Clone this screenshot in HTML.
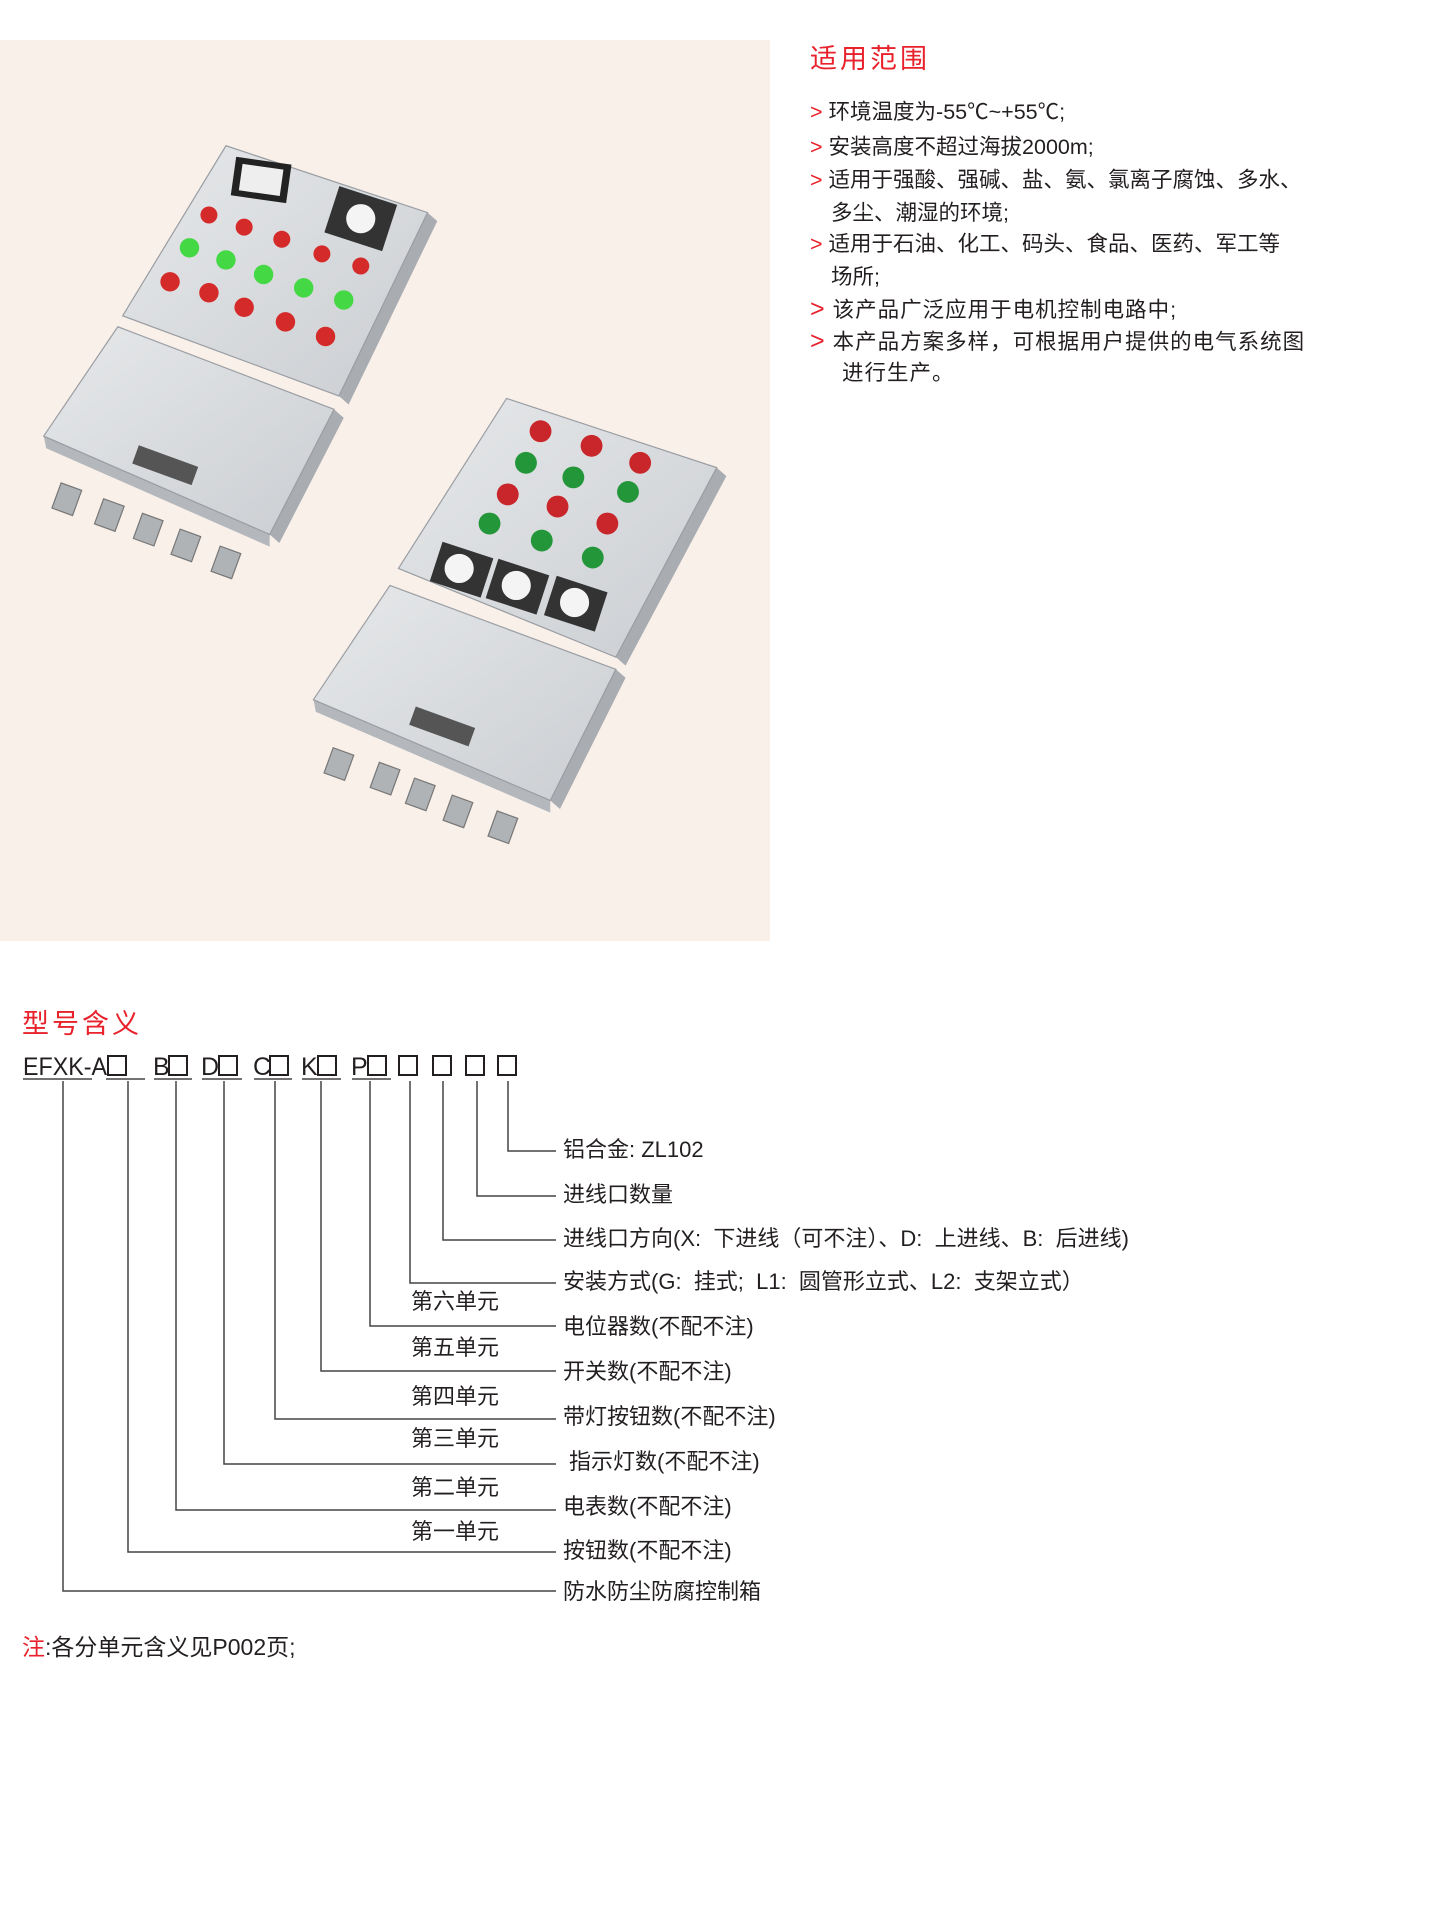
<!DOCTYPE html>
<html><head><meta charset="utf-8"><style>
body{margin:0;width:1443px;height:1913px;background:#fff;position:relative;overflow:hidden;font-family:"Liberation Sans","Noto Sans CJK SC",sans-serif;color:#231f20}
.t{position:absolute;white-space:nowrap}
.r{color:#e8212b}
.b{font-size:21.5px;line-height:26px}
.l{font-size:22px;line-height:26px}
</style></head><body>
<div style="position:absolute;left:0;top:40px;width:770px;height:901px;background:#f9f0ea"></div>
<svg style="position:absolute;left:0;top:0" width="770" height="941">
<defs><linearGradient id="g" x1="0" y1="0" x2="1" y2="1"><stop offset="0" stop-color="#e6e8ea"/><stop offset="1" stop-color="#cbced2"/></linearGradient></defs>
<g transform="scale(1.2147)">
<!-- box1 -->
<polygon points="352,175 360,182 287,333 279,326" fill="#a9adb2"/>
<polygon points="275,337 283,344 230,447 222,440" fill="#a9adb2"/>
<polygon points="36,359 222,440 222,450 38,369" fill="#b4b8bc"/>
<polygon points="186,120 352,175 279,326 101,260" fill="url(#g)" stroke="#9a9ea3"/>
<polygon points="97,269 275,337 222,440 36,359" fill="url(#g)" stroke="#9a9ea3"/>
<rect x="192" y="132" width="46" height="32" fill="#222" transform="rotate(8 214 148)"/>
<rect x="198" y="137" width="34" height="22" fill="#eee" transform="rotate(8 214 148)"/>
<rect x="272" y="160" width="50" height="40" fill="#333" transform="rotate(18 297 180)"/>
<circle cx="297" cy="180" r="12" fill="#f4f4f4"/>
<g fill="#d52a2a"><circle cx="172" cy="177" r="7"/><circle cx="201" cy="187" r="7"/><circle cx="232" cy="197" r="7"/><circle cx="265" cy="209" r="7"/><circle cx="297" cy="219" r="7"/><circle cx="140" cy="232" r="8"/><circle cx="172" cy="241" r="8"/><circle cx="201" cy="253" r="8"/><circle cx="235" cy="265" r="8"/><circle cx="268" cy="277" r="8"/></g>
<g fill="#45d845"><circle cx="156" cy="204" r="8"/><circle cx="186" cy="214" r="8"/><circle cx="217" cy="226" r="8"/><circle cx="250" cy="237" r="8"/><circle cx="283" cy="247" r="8"/></g>
<rect x="110" y="375" width="52" height="16" fill="#555" transform="rotate(20 136 383)"/>
<g fill="#b0b3b6" stroke="#777"><rect x="46" y="400" width="18" height="22" transform="rotate(20 55 411)"/><rect x="81" y="413" width="18" height="22" transform="rotate(20 90 424)"/><rect x="113" y="425" width="18" height="22" transform="rotate(20 122 436)"/><rect x="144" y="438" width="18" height="22" transform="rotate(20 153 449)"/><rect x="177" y="452" width="18" height="22" transform="rotate(20 186 463)"/></g>
<!-- box2 -->
<polygon points="590,385 598,392 515,548 507,541" fill="#a9adb2"/>
<polygon points="507,551 515,558 461,666 453,659" fill="#a9adb2"/>
<polygon points="258,576 453,659 453,669 260,586" fill="#b4b8bc"/>
<polygon points="417,328 590,385 507,541 328,468" fill="url(#g)" stroke="#9a9ea3"/>
<polygon points="321,482 507,551 453,659 258,576" fill="url(#g)" stroke="#9a9ea3"/>
<g fill="#c8262a"><circle cx="445" cy="355" r="9"/><circle cx="487" cy="367" r="9"/><circle cx="527" cy="381" r="9"/><circle cx="418" cy="407" r="9"/><circle cx="459" cy="417" r="9"/><circle cx="500" cy="431" r="9"/></g>
<g fill="#23963a"><circle cx="433" cy="381" r="9"/><circle cx="472" cy="393" r="9"/><circle cx="517" cy="405" r="9"/><circle cx="403" cy="431" r="9"/><circle cx="446" cy="445" r="9"/><circle cx="488" cy="459" r="9"/></g>
<g fill="#333"><rect x="358" y="452" width="44" height="34" transform="rotate(18 380 469)"/><rect x="404" y="466" width="44" height="34" transform="rotate(18 426 483)"/><rect x="452" y="480" width="44" height="34" transform="rotate(18 474 497)"/></g>
<g fill="#f4f4f4"><circle cx="378" cy="468" r="12"/><circle cx="425" cy="482" r="12"/><circle cx="473" cy="496" r="12"/></g>
<rect x="338" y="590" width="52" height="16" fill="#555" transform="rotate(20 364 598)"/>
<g fill="#b0b3b6" stroke="#777"><rect x="270" y="618" width="18" height="22" transform="rotate(20 279 629)"/><rect x="308" y="630" width="18" height="22" transform="rotate(20 317 641)"/><rect x="337" y="643" width="18" height="22" transform="rotate(20 346 654)"/><rect x="368" y="657" width="18" height="22" transform="rotate(20 377 668)"/><rect x="405" y="670" width="18" height="22" transform="rotate(20 414 681)"/></g>
</g>
</svg>

<div class="t r" style="left:810px;top:37px;font-size:27px;letter-spacing:3px">适用范围</div>
<div class="t b" style="left:810px;top:99px"><span class="r">&gt;</span> 环境温度为-55℃~+55℃;</div>
<div class="t b" style="left:810px;top:134px"><span class="r">&gt;</span> 安装高度不超过海拔2000m;</div>
<div class="t b" style="left:810px;top:167px"><span class="r">&gt;</span> 适用于强酸、强碱、盐、氨、氯离子腐蚀、多水、</div>
<div class="t b" style="left:831px;top:200px">多尘、潮湿的环境;</div>
<div class="t b" style="left:810px;top:231px"><span class="r">&gt;</span> 适用于石油、化工、码头、食品、医药、军工等</div>
<div class="t b" style="left:831px;top:264px">场所;</div>
<div class="t b" style="left:810px;top:296px;letter-spacing:1px"><span class="r" style="font-size:25px">&gt;</span> 该产品广泛应用于电机控制电路中;</div>
<div class="t b" style="left:810px;top:328px;letter-spacing:1px"><span class="r" style="font-size:25px">&gt;</span> 本产品方案多样，可根据用户提供的电气系统图</div>
<div class="t b" style="left:842px;top:360px;letter-spacing:1px">进行生产。</div>

<div class="t r" style="left:22px;top:1002px;font-size:27px;letter-spacing:3px">型号含义</div>

<svg style="position:absolute;left:0;top:0" width="1443" height="1913">
<g font-family="Liberation Sans,sans-serif" font-size="25" fill="#231f20">
<text x="23" y="1075" textLength="84" lengthAdjust="spacingAndGlyphs">EFXK-A</text>
<text x="153" y="1075">B</text><text x="201" y="1075">D</text><text x="253" y="1075">C</text><text x="301" y="1075">K</text><text x="351" y="1075">P</text>
</g>
<g fill="none" stroke="#231f20" stroke-width="2">
<rect x="108" y="1056" width="18" height="19"/><rect x="169" y="1056" width="18" height="19"/><rect x="219" y="1056" width="18" height="19"/><rect x="270" y="1056" width="18" height="19"/><rect x="318" y="1056" width="18" height="19"/><rect x="368" y="1056" width="18" height="19"/>
<rect x="399" y="1056" width="18" height="19"/><rect x="433" y="1056" width="18" height="19"/><rect x="466" y="1056" width="18" height="19"/><rect x="498" y="1056" width="18" height="19"/>
</g>
<g stroke="#444" stroke-width="1.5" fill="none">
<path d="M23 1079H92M106 1079H145M154 1079H192M202 1079H242M254 1079H292M302 1079H341M352 1079H391"/>
<path d="M508 1081V1151H556M477 1081V1196H556M443 1081V1240H556M410 1081V1283H556M370 1081V1326H556M321 1081V1371H556M275 1081V1419H556M224 1081V1464H556M176 1081V1510H556M128 1081V1552H556M63 1081V1591H556"/>
</g>
</svg>
<div class="t l" style="left:563px;top:1137px">铝合金: ZL102</div>
<div class="t l" style="left:563px;top:1182px">进线口数量</div>
<div class="t l" style="left:563px;top:1226px">进线口方向(X:&nbsp; 下进线（可不注）、D:&nbsp; 上进线、B:&nbsp; 后进线)</div>
<div class="t l" style="left:563px;top:1269px">安装方式(G:&nbsp; 挂式;&nbsp; L1:&nbsp; 圆管形立式、L2:&nbsp; 支架立式）</div>
<div class="t l" style="left:563px;top:1314px">电位器数(不配不注)</div>
<div class="t l" style="left:563px;top:1359px">开关数(不配不注)</div>
<div class="t l" style="left:563px;top:1404px">带灯按钮数(不配不注)</div>
<div class="t l" style="left:569px;top:1449px">指示灯数(不配不注)</div>
<div class="t l" style="left:563px;top:1494px">电表数(不配不注)</div>
<div class="t l" style="left:563px;top:1538px">按钮数(不配不注)</div>
<div class="t l" style="left:563px;top:1579px">防水防尘防腐控制箱</div>
<div class="t l" style="left:411px;top:1289px">第六单元</div>
<div class="t l" style="left:411px;top:1335px">第五单元</div>
<div class="t l" style="left:411px;top:1384px">第四单元</div>
<div class="t l" style="left:411px;top:1426px">第三单元</div>
<div class="t l" style="left:411px;top:1475px">第二单元</div>
<div class="t l" style="left:411px;top:1519px">第一单元</div>
<div class="t l" style="left:22px;top:1634px;font-size:23px"><span class="r">注</span>:各分单元含义见P002页;</div>
</body></html>
